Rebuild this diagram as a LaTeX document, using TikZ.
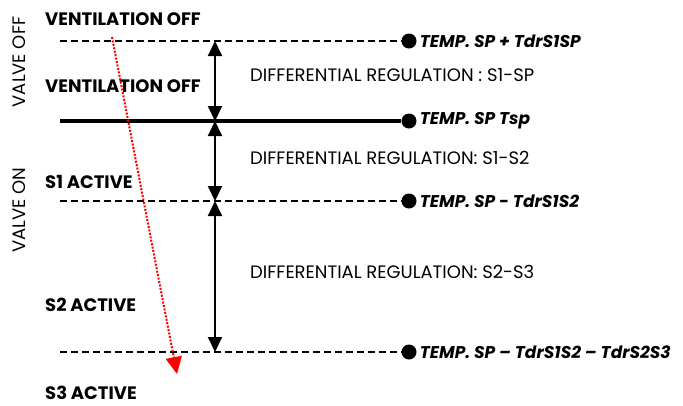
\documentclass[tikz,border=0pt]{standalone}
\usepackage{fontspec}
\setmainfont{Poppins}
\usetikzlibrary{arrows.meta,positioning}

\begin{document}
\begin{tikzpicture}
[x=1pt, y=-1pt, font=\fontsize{18}{21}\selectfont,
% STYLES
% The level style is used to draw the dashed temperature lines
level/.style={line width=2pt, dash pattern=on 7pt off 4pt},
% The dot style marks the end of each temperature line
dot/.style={circle, fill=black, inner sep=0pt, minimum size=15pt},
% The setpoint style is used to write the temperature names
setpoint/.style={anchor=west, inner sep=0pt, font=\fontsize{17}{20}\selectfont\bfseries\itshape},
% The state style is used to write what the unit does
state/.style={anchor=west, inner sep=0pt, font=\fontsize{18}{21}\selectfont\bfseries},
% The zone style is used to write the regulation bands
zone/.style={anchor=west, inner sep=0pt, font=\fontsize{18}{21}\selectfont},
valve/.style={rotate=90, inner sep=0pt, font=\fontsize{18}{21}\selectfont},
band/.style={{Triangle[length=15pt,width=14pt]}-{Triangle[length=15pt,width=14pt]}, line width=2pt}]

\useasboundingbox (0,0) rectangle (683,405);

% Draw levels
\coordinate (start1) at (60,41);
\coordinate (start2) at (60,121);
\coordinate (start3) at (60,201);
\coordinate (start4) at (60,352);
\node [dot] (dot1) at (409,41) {};
\node [dot] (dot2) at (409,121) {};
\node [dot] (dot3) at (409,201) {};
\node [dot] (dot4) at (409,352) {};

\draw [level] (start1) -- (dot1);
\draw [line width=3.5pt] (start2) -- (dot2);
\draw [level] (start3) -- (dot3);
\draw [level] (start4) -- (dot4);

%%%%%%%%%%%%%%%
% Setpoints
\node [setpoint, right=3pt of dot1] (sp1) {TEMP. SP + TdrS1SP};
\node [setpoint, right=3pt of dot2] (sp2) {TEMP. SP Tsp};
\node [setpoint, right=3pt of dot3] (sp3) {TEMP. SP - TdrS1S2};
\node [setpoint, right=3pt of dot4] (sp4) {TEMP. SP – TdrS1S2 – TdrS2S3};

% Regulation bands
\coordinate (band1) at (215,41);
\coordinate (band2) at (215,121);
\coordinate (band3) at (215,201);
\coordinate (band4) at (215,352);
\node [zone] (zone1) at (250,75) {DIFFERENTIAL REGULATION : S1-SP};
\node [zone] (zone2) at (250,158) {DIFFERENTIAL REGULATION: S1-S2};
\node [zone] (zone3) at (250,272) {DIFFERENTIAL REGULATION: S2-S3};

% States
\node [state] (off1) at (45,19) {VENTILATION OFF};
\node [state] (off2) at (45,86) {VENTILATION OFF};
\node [state] (s1) at (45,182) {S1 ACTIVE};
\node [state] (s2) at (45,305) {S2 ACTIVE};
\node [state] (s3) at (45,393) {S3 ACTIVE};

% Valve
\node [valve] (valveoff) at (19,62) {VALVE OFF};
\node [valve] (valveon) at (19,210) {VALVE ON};
%%%%%%%%%%%%%%%

% Draw the links
\path [band]
(band1) edge (band2)
(band2) edge (band3)
(band3) edge (band4);

\coordinate (trend1) at (112,37);
\coordinate (trend2) at (177,374);
\draw [red, line width=2pt, dash pattern=on 2pt off 1.5pt, -{Triangle[length=17pt,width=16pt,sep=0pt]}] (trend1) -- (trend2);

\end{tikzpicture}
\end{document}
